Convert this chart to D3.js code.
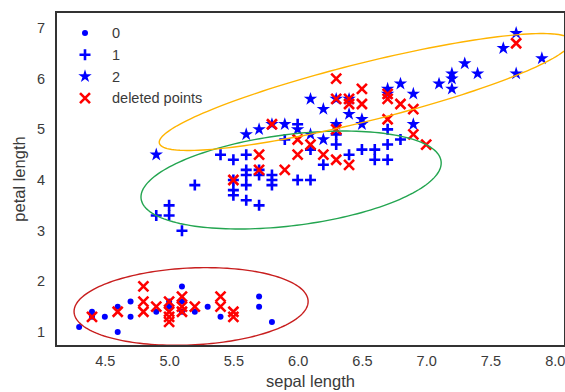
<!DOCTYPE html>
<html>
<head>
<meta charset="utf-8">
<script src="https://cdn.jsdelivr.net/npm/d3@7"></script>
<style>
  body { margin: 0; background: #fff; }
  text { font-family: "Liberation Sans", Arial, sans-serif; fill: #3a3a3a; }
</style>
</head>
<body>
<svg id="chart" width="565" height="392"></svg>
<script>
// kept points per class: [sepal length, petal length]
const class0 = [[4.3,1.1],[4.4,1.4],[4.4,1.3],[4.5,1.3],[4.6,1.5],[4.6,1.0],[4.7,1.6],[4.7,1.3],[4.9,1.4],[5.0,1.5],
  [5.0,1.6],[5.1,1.9],[5.1,1.6],[5.1,1.4],[5.2,1.4],[5.3,1.5],[5.4,1.3],[5.7,1.7],[5.7,1.5],[5.8,1.2]]
const class1 = [[4.9,3.3],[5.0,3.5],[5.0,3.3],[5.1,3.0],[5.2,3.9],[5.4,4.5],[5.5,4.4],[5.5,4.0],[5.5,3.8],[5.5,3.7],
  [5.6,4.5],[5.6,4.2],[5.6,4.1],[5.6,3.9],[5.6,3.6],[5.7,4.2],[5.7,4.1],[5.7,3.5],[5.8,4.1],[5.8,4.0],[5.8,3.9],
  [5.9,4.8],[6.0,5.1],[6.0,4.0],[6.1,4.0],[6.1,4.6],[6.2,4.3],[6.3,4.7],[6.3,4.9],[6.4,4.5],[6.5,4.6],[6.6,4.6],
  [6.6,4.4],[6.7,4.7],[6.7,4.4],[6.7,5.0],[6.8,4.8]]
const class2 = [[4.9,4.5],[5.6,4.9],[5.7,5.0],[5.8,5.1],[5.9,5.1],[6.0,5.0],[6.1,4.9],[6.1,5.6],[6.2,5.4],[6.2,4.8],
  [6.3,5.1],[6.4,5.3],[6.5,5.1],[6.5,5.2],[6.7,5.8],[6.8,5.9],[6.9,5.7],[6.9,5.1],[7.1,5.9],[7.2,5.8],[7.2,6.0],
  [7.2,6.1],[7.3,6.3],[7.4,6.1],[7.6,6.6],[7.7,6.9],[7.7,6.1],[7.9,6.4],[6.3,5.6],[6.4,5.6],[6.7,5.7]]
const deleted = [[4.4,1.3],[4.6,1.4],[4.8,1.9],[4.8,1.6],[4.8,1.4],[4.9,1.5],[5.0,1.6],[5.0,1.4],[5.0,1.3],[5.0,1.2],
  [5.1,1.7],[5.1,1.5],[5.1,1.4],[5.2,1.5],[5.4,1.7],[5.4,1.5],[5.5,1.4],[5.5,1.3],
  [5.5,4.0],[5.7,4.5],[5.7,4.2],[5.9,4.2],[6.0,4.5],[6.1,4.7],[6.2,4.5],[6.3,4.4],[6.4,4.3],[6.9,4.9],[7.0,4.7],
  [5.8,5.1],[6.0,4.8],[6.3,5.0],[6.3,6.0],[6.3,5.6],[6.4,5.6],[6.4,5.5],[6.5,5.8],[6.5,5.5],[6.7,5.7],[6.7,5.6],
  [6.7,5.2],[6.8,5.5],[6.9,5.4],[7.7,6.7]]

// ellipse per class: centre and two conjugate semi-axes (data units)
const ellipseCenter = [[5.171,1.504],[5.949,4.0],[6.525,5.737]]
const ellipseAxisA = [[0.9105,0.0987],[1.167,0.370],[1.601,1.012]]
const ellipseAxisB = [[0,0.760],[0.044,-0.893],[0.0546,-0.555]]
const ellipseColor = ['#c81e1e', '#23a550', '#ffb400']

const legendLabels = ['0', '1', '2', 'deleted points']
const xTicks = [4.5, 5.0, 5.5, 6.0, 6.5, 7.0, 7.5, 8.0]
const yTicks = [1, 2, 3, 4, 5, 6, 7]

const margin = { top: 12, right: 0, bottom: 46, left: 56 }
const W = 565, H = 392
const blue = '#0000ff', red = '#ff0000'

const svg = d3.select('#chart')
const x = d3.scaleLinear().domain([4.12, 8.08]).range([margin.left, W - margin.right])
const y = d3.scaleLinear().domain([0.724, 7.316]).range([H - margin.bottom, margin.top])

svg.append('defs').append('clipPath').attr('id', 'plot')
  .append('rect')
  .attr('x', margin.left).attr('y', margin.top)
  .attr('width', W - margin.left - margin.right)
  .attr('height', H - margin.top - margin.bottom)

const plot = svg.append('g').attr('clip-path', 'url(#plot)')

// markers
const star = d3.symbol().type(d3.symbolStar).size(56)
const plusPath = 'M-5.5,0H5.5M0,-5.5V5.5'
const crossPath = 'M-5,-5L5,5M-5,5L5,-5'

function drawDots(g, data) {
  g.selectAll(null).data(data).enter().append('circle')
    .attr('cx', d => x(d[0])).attr('cy', d => y(d[1]))
    .attr('r', 3).attr('fill', blue)
}
function drawPlus(g, data) {
  g.selectAll(null).data(data).enter().append('path')
    .attr('d', plusPath)
    .attr('transform', d => `translate(${x(d[0])},${y(d[1])})`)
    .attr('stroke', blue).attr('stroke-width', 2.6).attr('fill', 'none')
}
function drawStars(g, data) {
  g.selectAll(null).data(data).enter().append('path')
    .attr('d', star)
    .attr('transform', d => `translate(${x(d[0])},${y(d[1])})`)
    .attr('fill', blue)
}
function drawCross(g, data) {
  g.selectAll(null).data(data).enter().append('path')
    .attr('d', crossPath)
    .attr('transform', d => `translate(${x(d[0])},${y(d[1])})`)
    .attr('stroke', red).attr('stroke-width', 2.6).attr('fill', 'none')
}

drawDots(plot.append('g'), class0)
drawPlus(plot.append('g'), class1)
drawStars(plot.append('g'), class2)
drawCross(plot.append('g'), deleted)

// ellipses
const line = d3.line().x(d => x(d[0])).y(d => y(d[1])).curve(d3.curveLinearClosed)
const angles = d3.range(0, 2 * Math.PI, Math.PI / 90)
ellipseCenter.forEach((c, i) => {
  const a = ellipseAxisA[i], b = ellipseAxisB[i]
  const pts = angles.map(t => [
    c[0] + a[0] * Math.cos(t) + b[0] * Math.sin(t),
    c[1] + a[1] * Math.cos(t) + b[1] * Math.sin(t)
  ])
  plot.append('path')
    .attr('d', line(pts))
    .attr('fill', 'none')
    .attr('stroke', ellipseColor[i])
    .attr('stroke-width', 1.4)
})

// frame
svg.append('rect')
  .attr('x', margin.left).attr('y', margin.top)
  .attr('width', W - margin.left - margin.right)
  .attr('height', H - margin.top - margin.bottom)
  .attr('fill', 'none').attr('stroke', '#333').attr('stroke-width', 2)

// axes
const xAxis = svg.append('g')
  .attr('transform', `translate(0,${H - margin.bottom})`)
  .call(d3.axisBottom(x).tickValues(xTicks).tickFormat(d3.format('.1f')).tickSize(0).tickPadding(10))
const yAxis = svg.append('g')
  .attr('transform', `translate(${margin.left},0)`)
  .call(d3.axisLeft(y).tickValues(yTicks).tickFormat(d3.format('d')).tickSize(0).tickPadding(11))
;[xAxis, yAxis].forEach(a => {
  a.select('.domain').remove()
  a.selectAll('text').attr('font-size', 14.5).attr('fill', '#444')
    .style('font-family', '"Liberation Sans", Arial, sans-serif')
})

svg.append('text')
  .attr('x', (margin.left + W - margin.right) / 2).attr('y', 387)
  .attr('text-anchor', 'middle').attr('font-size', 16.5)
  .text('sepal length')
svg.append('text')
  .attr('transform', `translate(25,${(margin.top + H - margin.bottom) / 2}) rotate(-90)`)
  .attr('text-anchor', 'middle').attr('font-size', 16.5)
  .text('petal length')

// legend
const legend = svg.append('g')
const rowY = i => 33 + i * 21.7
legendLabels.forEach((label, i) => {
  const gx = 85, gy = rowY(i)
  const g = legend.append('g').attr('transform', `translate(${gx},${gy})`)
  if (i === 0) g.append('circle').attr('r', 3).attr('fill', blue)
  if (i === 1) g.append('path').attr('d', plusPath).attr('stroke', blue).attr('stroke-width', 2.6)
  if (i === 2) g.append('path').attr('d', star).attr('fill', blue)
  if (i === 3) g.append('path').attr('d', crossPath).attr('stroke', red).attr('stroke-width', 2.6)
  legend.append('text')
    .attr('x', 112).attr('y', gy).attr('dy', '0.36em')
    .attr('font-size', 14.5)
    .text(label)
})
</script>
</body>
</html>
